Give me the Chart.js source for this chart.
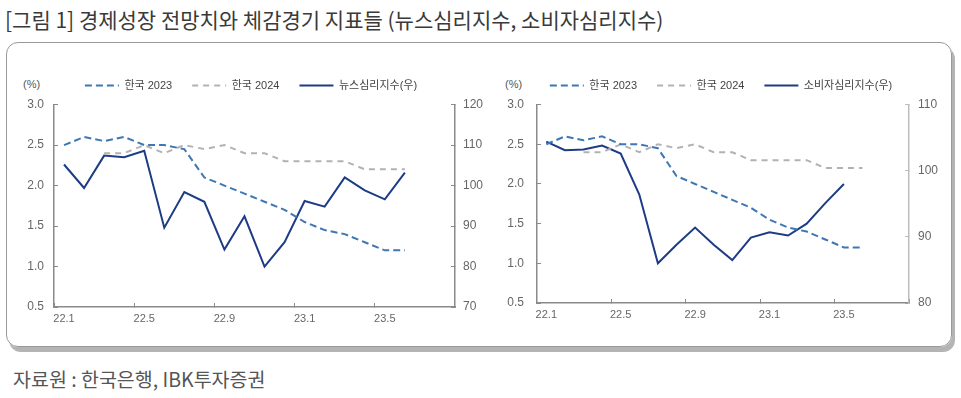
<!DOCTYPE html>
<html>
<head>
<meta charset="utf-8">
<script src="https://cdn.jsdelivr.net/npm/chart.js@4/dist/chart.umd.min.js"></script>
<style>
  body { margin: 0; width: 961px; height: 398px; background: #fff; position: relative; overflow: hidden;
         font-family: "Noto Sans CJK KR", "Noto Sans", sans-serif; }
  #title { position: absolute; left: 5px; top: 4px; font-size: 21px; color: #3a3a3a; white-space: nowrap; }
  #frame { position: absolute; left: 6px; top: 42px; width: 944px; height: 303px; border: 1.5px solid #999;
           border-radius: 12px; box-shadow: 3px 5px 0 #b4b4b4; }
  #source { position: absolute; left: 13px; top: 364px; font-size: 19.5px; color: #555; white-space: nowrap; }
  .unit { position: absolute; top: 78px; font: 11px "Liberation Sans", Arial, sans-serif; color: #555; }
  .box { position: absolute; top: 60px; height: 272px; }
</style>
</head>
<body>
<div id="title">[그림 1] 경제성장 전망치와 체감경기 지표들 (뉴스심리지수, 소비자심리지수)</div>
<div id="frame"></div>
<div class="unit" style="left:23px">(%)</div>
<div class="unit" style="left:505px">(%)</div>
<div class="box" style="left:12px; width:478px"><canvas id="leftChart" width="478" height="272"></canvas></div>
<div class="box" style="left:492px; width:458px"><canvas id="rightChart" width="458" height="272"></canvas></div>
<div id="source">자료원 : 한국은행, IBK투자증권</div>
<script>
// Data
const months = ['22.1', '22.2', '22.3', '22.4', '22.5', '22.6', '22.7', '22.8', '22.9', '22.10', '22.11', '22.12',
  '23.1', '23.2', '23.3', '23.4', '23.5', '23.6', '23.7', '23.8'];
const korea2023 = [2.5, 2.6, 2.55, 2.6, 2.5, 2.5, 2.45, 2.1, 2.0, 1.9, 1.8, 1.7, 1.55, 1.45, 1.4, 1.3, 1.2, 1.2];
const korea2024 = [null, null, 2.4, 2.4, 2.5, 2.4, 2.5, 2.45, 2.5, 2.4, 2.4, 2.3, 2.3, 2.3, 2.3, 2.2, 2.2, 2.2];
const newsIndex = [105.2, 99.4, 107.4, 107.0, 108.6, 89.6, 98.4, 96.0, 84.2, 92.4, 80.0, 86.0, 96.2, 94.8, 102.0, 98.8, 96.6, 103.2];
const consumerIndex = [104.4, 103.1, 103.2, 103.8, 102.6, 96.4, 86.0, 88.8, 91.4, 88.8, 86.5, 89.9, 90.7, 90.2, 92.0, 95.1, 98.0];

const tickFont = { family: '"Liberation Sans", Arial, sans-serif', size: 11 };
const yTickFont = { family: '"Liberation Sans", Arial, sans-serif', size: 12 };
const axisColor = '#8a8a8a';

// legend lines keep the dataset dash (point style would drop it)
function dashedLabels(chart) {
  const items = Chart.defaults.plugins.legend.labels.generateLabels(chart);
  items.forEach((it) => {
    const ds = chart.data.datasets[it.datasetIndex];
    it.lineDash = ds.borderDash || [];
    it.strokeStyle = ds.borderColor;
    it.lineWidth = 2;
  });
  return items;
}

function makeChart(id, indexLabel, indexData, rMin, rMax, sizes) {
  const ctx = document.getElementById(id).getContext('2d');
  return new Chart(ctx, {
    type: 'line',
    data: {
      labels: months,
      datasets: [
        {
          label: '한국 2023',
          data: korea2023,
          borderColor: '#3f77b3',
          borderDash: [7, 4],
          borderWidth: 2,
          pointRadius: 0,
          pointStyle: 'line',
          yAxisID: 'y',
        },
        {
          label: '한국 2024',
          data: korea2024,
          borderColor: '#b2b2b2',
          borderDash: [6, 5],
          borderWidth: 2,
          pointRadius: 0,
          pointStyle: 'line',
          yAxisID: 'y',
        },
        {
          label: indexLabel,
          data: indexData,
          borderColor: '#1d3c85',
          borderWidth: 2,
          pointRadius: 0,
          pointStyle: 'line',
          yAxisID: 'y1',
        },
      ],
    },
    options: {
      responsive: false,
      animation: false,
      layout: { padding: { top: 0 } },
      plugins: {
        tooltip: { enabled: false },
        legend: {
          labels: {
            usePointStyle: true,
            pointStyleWidth: 34,
            padding: 20,
            color: '#444',
            font: { family: '"Liberation Sans", "Noto Sans CJK KR", sans-serif', size: 11 },
            generateLabels: dashedLabels,
          },
        },
        // small spacer between legend and plot
        subtitle: { display: true, text: ' ', weight: 500, padding: 0, font: { size: 3 } },
      },
      scales: {
        x: {
          offset: true,
          afterFit: (s) => { s.height = sizes.bottom; },
          border: { color: axisColor, width: 1.5 },
          grid: {
            offset: true,
            drawOnChartArea: false,
            tickLength: -4,
            color: (c) => (c.index === undefined || c.index % 4 === 0) ? axisColor : 'rgba(0,0,0,0)',
          },
          ticks: {
            autoSkip: false,
            maxRotation: 0,
            padding: 9,
            color: '#666',
            font: tickFont,
            callback: (v, i) => (i % 4 === 0 ? months[i] : ''),
          },
        },
        y: {
          position: 'left',
          min: 0.5,
          max: 3.0,
          afterFit: (s) => { s.width = sizes.left; },
          border: { color: axisColor, width: 1.5 },
          grid: { drawOnChartArea: false, tickLength: -4, color: axisColor },
          ticks: { stepSize: 0.5, padding: sizes.leftPad, color: '#666', font: yTickFont, callback: (v) => v.toFixed(1) },
        },
        y1: {
          position: 'right',
          min: rMin,
          max: rMax,
          afterFit: (s) => { s.width = sizes.right; },
          border: { color: sizes.rightColor, width: 1.5 },
          grid: { drawOnChartArea: false, tickLength: -4, color: sizes.rightColor },
          ticks: { stepSize: 10, padding: sizes.rightPad, color: '#666', font: yTickFont },
        },
      },
    },
  });
}

makeChart('leftChart', '뉴스심리지수(우)', newsIndex, 70, 120,
  { left: 42, right: 35, bottom: 25, leftPad: 14, rightPad: 12, rightColor: axisColor });
makeChart('rightChart', '소비자심리지수(우)', consumerIndex, 80, 110,
  { left: 45, right: 41, bottom: 29, leftPad: 17, rightPad: 13, rightColor: '#bdbdbd' });
</script>
</body>
</html>
